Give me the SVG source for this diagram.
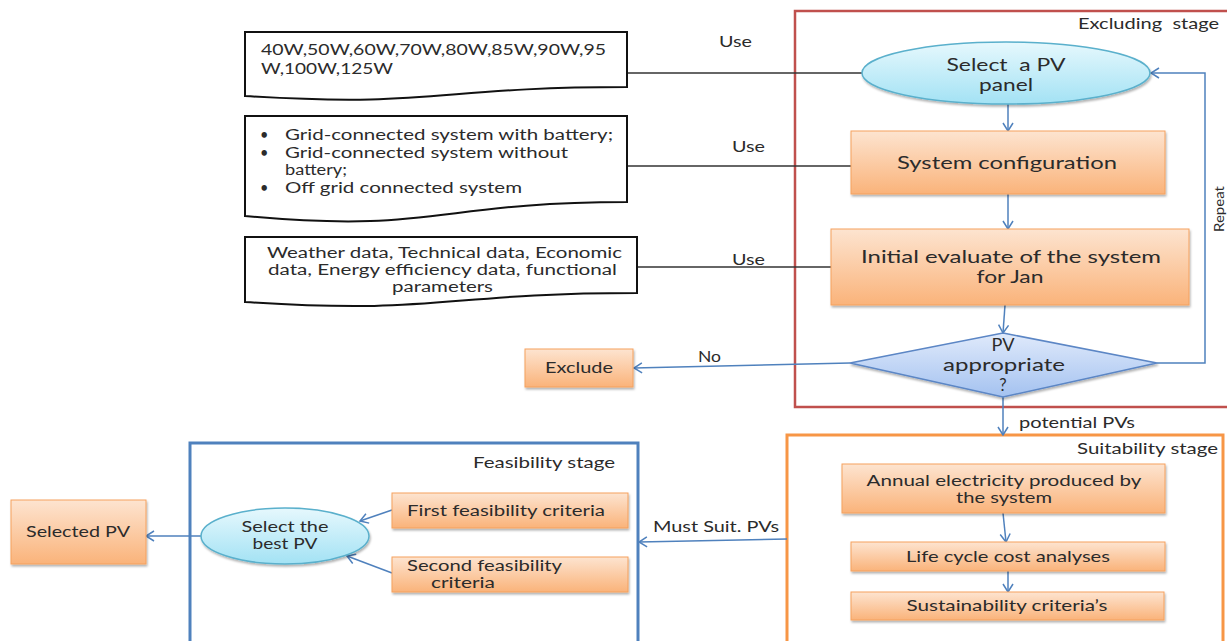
<svg xmlns="http://www.w3.org/2000/svg" width="1227" height="641" viewBox="0 0 1227 641">
<defs>
<linearGradient id="gOr" x1="0" y1="0" x2="0" y2="1"><stop offset="0" stop-color="#fde4d0"/><stop offset="1" stop-color="#fab37a"/></linearGradient>
<linearGradient id="gCy" x1="0" y1="0" x2="0" y2="1"><stop offset="0" stop-color="#e6f8fd"/><stop offset="1" stop-color="#a3e2f4"/></linearGradient>
<linearGradient id="gBl" x1="0" y1="0" x2="0" y2="1"><stop offset="0" stop-color="#e0eafb"/><stop offset="1" stop-color="#a4c2f0"/></linearGradient>
<filter id="sh" x="-10%" y="-20%" width="120%" height="150%"><feDropShadow dx="1" dy="2" stdDeviation="1.3" flood-color="#000" flood-opacity="0.3"/></filter>
<marker id="ah" markerUnits="userSpaceOnUse" viewBox="0 0 10 12" refX="9" refY="6" markerWidth="10" markerHeight="12" orient="auto"><path d="M1,1 L9,6 L1,11" fill="none" stroke="#4f81bd" stroke-width="1.5"/></marker>
</defs>
<style>
text{font-family:Lato,"Open Sans","Liberation Sans",sans-serif;fill:#2b2b2b;}
.t13{font-size:13.5px}.t14{font-size:14.5px}.t15{font-size:15px}.t155{font-size:15.5px}.t165{font-size:16.5px}.t18{font-size:18px}
.box{fill:url(#gOr);stroke:#f5a15e;stroke-width:1;filter:url(#sh)}
.ell{fill:url(#gCy);stroke:#5ab0cc;stroke-width:1.5;filter:url(#sh)}
.doc{fill:#fff;stroke:#111;stroke-width:2}
.conn{fill:none;stroke:#4f81bd;stroke-width:1.5}
.arr{marker-end:url(#ah)}
.use{fill:none;stroke:#333;stroke-width:1.5}
.c{text-anchor:middle}
</style>

<g id="stages">
<rect id="excluding-stage" x="795" y="11" width="450" height="396" fill="none" stroke="#c0504d" stroke-width="2.5"/>
<rect id="suitability-stage" x="787" y="435" width="436" height="215" fill="none" stroke="#f79646" stroke-width="3"/>
<rect id="feasibility-stage" x="190" y="443" width="448" height="210" fill="none" stroke="#4f81bd" stroke-width="3"/>
<text class="t15" x="1078" y="29" textLength="141" lengthAdjust="spacingAndGlyphs" xml:space="preserve">Excluding  stage</text>
<text class="t15" x="1077" y="454" textLength="141" lengthAdjust="spacingAndGlyphs">Suitability stage</text>
<text class="t15" x="473" y="468" textLength="142" lengthAdjust="spacingAndGlyphs">Feasibility stage</text>
</g>

<g id="connectors">
<line class="use" x1="627" y1="73" x2="862" y2="73"/>
<line class="use" x1="627" y1="166" x2="851" y2="166"/>
<line class="use" x1="637" y1="267" x2="831" y2="267"/>
<line class="conn arr" x1="1008" y1="104" x2="1008" y2="131"/>
<line class="conn arr" x1="1008" y1="194" x2="1008" y2="229"/>
<line class="conn arr" x1="1005" y1="305" x2="1003" y2="333"/>
<line class="conn arr" x1="1003" y1="397" x2="1003" y2="435"/>
<line class="conn arr" x1="850" y1="363" x2="634" y2="368"/>
<polyline class="conn arr" points="1157,363 1205,363 1205,73 1151,73"/>
<line class="conn arr" x1="1003" y1="513" x2="1006" y2="542"/>
<line class="conn arr" x1="1008" y1="571" x2="1008" y2="592"/>
<line class="conn arr" x1="787" y1="539" x2="639" y2="542"/>
<line class="conn arr" x1="392" y1="510" x2="360" y2="521"/>
<line class="conn arr" x1="392" y1="573" x2="347" y2="556"/>
<line class="conn arr" x1="201" y1="536" x2="146" y2="536"/>
<text class="t15" x="719" y="47" textLength="33" lengthAdjust="spacingAndGlyphs">Use</text>
<text class="t15" x="732" y="152" textLength="33" lengthAdjust="spacingAndGlyphs">Use</text>
<text class="t15" x="732" y="265" textLength="33" lengthAdjust="spacingAndGlyphs">Use</text>
<text class="t15" x="698" y="362" textLength="23" lengthAdjust="spacingAndGlyphs">No</text>
<text class="t15" x="1019" y="428" textLength="116" lengthAdjust="spacingAndGlyphs">potential PVs</text>
<text class="t15" x="653" y="532" textLength="126" lengthAdjust="spacingAndGlyphs">Must Suit. PVs</text>
<text class="t13 c" transform="translate(1224,209) rotate(-90)" textLength="46" lengthAdjust="spacingAndGlyphs">Repeat</text>
</g>

<g id="doc-wattages">
<path class="doc" d="M245,32 H627 V87 C436,87 436,108 245,96 Z"/>
<text class="t155" x="261" y="55" textLength="345" lengthAdjust="spacingAndGlyphs">40W,50W,60W,70W,80W,85W,90W,95</text>
<text class="t155" x="261" y="74" textLength="132" lengthAdjust="spacingAndGlyphs">W,100W,125W</text>
</g>

<g id="doc-configurations">
<path class="doc" d="M245,116 H627 V202 C436,202 436,234 245,216 Z"/>
<text class="t14" x="260" y="140">•</text>
<text class="t14" x="285" y="140" textLength="328" lengthAdjust="spacingAndGlyphs">Grid-connected system with battery;</text>
<text class="t14" x="260" y="157.5">•</text>
<text class="t14" x="285" y="157.5" textLength="283" lengthAdjust="spacingAndGlyphs">Grid-connected system without</text>
<text class="t14" x="285" y="175" textLength="62" lengthAdjust="spacingAndGlyphs">battery;</text>
<text class="t14" x="260" y="192.5">•</text>
<text class="t14" x="285" y="192.5" textLength="237" lengthAdjust="spacingAndGlyphs">Off grid connected system</text>
</g>

<g id="doc-data">
<path class="doc" d="M245,237 H637 V293 C441,293 441,315 245,302 Z"/>
<text class="t14" x="267" y="258" textLength="355" lengthAdjust="spacingAndGlyphs">Weather data, Technical data, Economic</text>
<text class="t14" x="268" y="275" textLength="349" lengthAdjust="spacingAndGlyphs">data, Energy efficiency data, functional</text>
<text class="t14" x="392" y="292" textLength="101" lengthAdjust="spacingAndGlyphs">parameters</text>
</g>

<g id="select-pv-panel">
<ellipse class="ell" cx="1006" cy="73" rx="144" ry="31"/>
<text class="t165 c" x="1006" y="71" textLength="119" lengthAdjust="spacingAndGlyphs" xml:space="preserve">Select  a PV</text>
<text class="t165 c" x="1006" y="91" textLength="54" lengthAdjust="spacingAndGlyphs">panel</text>
</g>

<g id="system-configuration">
<rect class="box" x="851" y="131" width="314" height="63"/>
<text class="t18 c" x="1007" y="169" textLength="220" lengthAdjust="spacingAndGlyphs">System configuration</text>
</g>

<g id="initial-evaluate">
<rect class="box" x="831" y="229" width="358" height="76"/>
<text class="t165 c" x="1011" y="263" textLength="300" lengthAdjust="spacingAndGlyphs">Initial evaluate of the system</text>
<text class="t165 c" x="1010" y="283" textLength="67" lengthAdjust="spacingAndGlyphs">for Jan</text>
</g>

<g id="pv-appropriate">
<polygon points="1003,333 1157,363 1003,397 850,363" fill="url(#gBl)" stroke="#5b86c5" stroke-width="1.5" filter="url(#sh)"/>
<text class="t165 c" x="1003" y="351" textLength="23" lengthAdjust="spacingAndGlyphs">PV</text>
<text class="t165 c" x="1004" y="371" textLength="122" lengthAdjust="spacingAndGlyphs">appropriate</text>
<text class="t165 c" x="1003" y="391">?</text>
</g>

<g id="exclude">
<rect class="box" x="525" y="349" width="108" height="38"/>
<text class="t155 c" x="579" y="373" textLength="68" lengthAdjust="spacingAndGlyphs">Exclude</text>
</g>

<g id="annual-electricity">
<rect class="box" x="842" y="464" width="323" height="49"/>
<text class="t14 c" x="1004" y="486" textLength="275" lengthAdjust="spacingAndGlyphs">Annual electricity produced by</text>
<text class="t14 c" x="1004" y="503" textLength="96" lengthAdjust="spacingAndGlyphs">the system</text>
</g>

<g id="life-cycle-cost">
<rect class="box" x="851" y="542" width="314" height="29"/>
<text class="t15 c" x="1008" y="562" textLength="204" lengthAdjust="spacingAndGlyphs">Life cycle cost analyses</text>
</g>

<g id="sustainability-criteria">
<rect class="box" x="851" y="592" width="313" height="28"/>
<text class="t15 c" x="1007" y="611" textLength="201" lengthAdjust="spacingAndGlyphs">Sustainability criteria’s</text>
</g>

<g id="first-feasibility">
<rect class="box" x="392" y="493" width="236" height="35"/>
<text class="t155" x="407" y="516" textLength="198" lengthAdjust="spacingAndGlyphs">First feasibility criteria</text>
</g>

<g id="second-feasibility">
<rect class="box" x="392" y="557" width="236" height="35"/>
<text class="t14" x="407" y="571" textLength="155" lengthAdjust="spacingAndGlyphs">Second feasibility</text>
<text class="t14" x="431" y="588" textLength="64" lengthAdjust="spacingAndGlyphs">criteria</text>
</g>

<g id="select-best-pv">
<ellipse class="ell" cx="285" cy="536" rx="84" ry="28"/>
<text class="t14 c" x="285" y="532" textLength="87" lengthAdjust="spacingAndGlyphs">Select the</text>
<text class="t14 c" x="285" y="549" textLength="65" lengthAdjust="spacingAndGlyphs">best PV</text>
</g>

<g id="selected-pv">
<rect class="box" x="11" y="500" width="135" height="64"/>
<text class="t155 c" x="78" y="537" textLength="104" lengthAdjust="spacingAndGlyphs">Selected PV</text>
</g>
</svg>
